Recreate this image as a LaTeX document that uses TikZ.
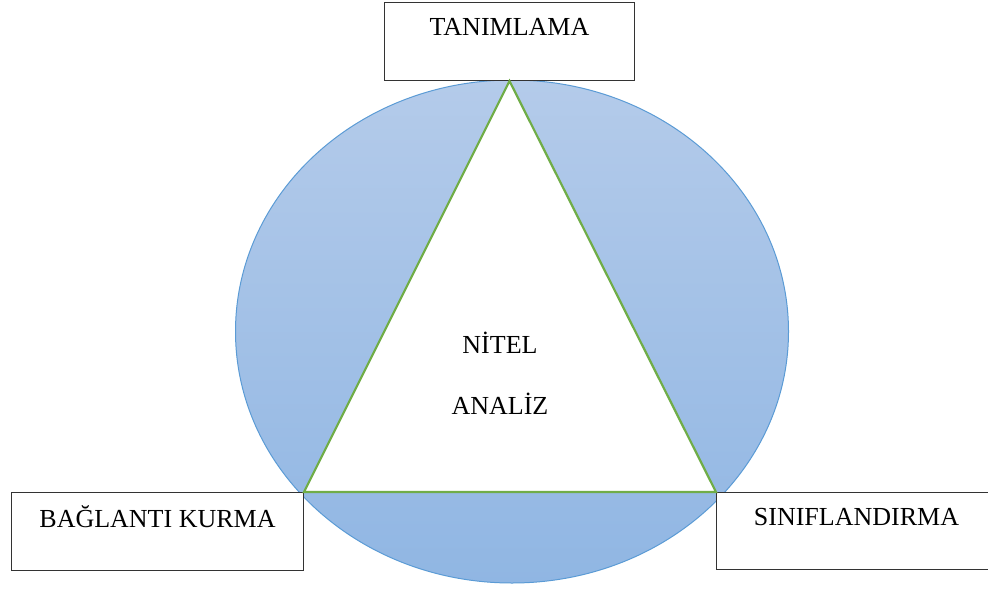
\documentclass[tikz,border=0pt]{standalone}
\usepackage{fontspec}
\setmainfont{Liberation Serif}
\usepackage{tikz}
\usetikzlibrary{positioning}
\definecolor{ovaltop}{RGB}{180,203,234}
\definecolor{ovalbot}{RGB}{144,182,227}
\definecolor{ovalline}{RGB}{91,155,213}
\definecolor{trigreen}{RGB}{112,173,71}

\begin{document}
\begin{tikzpicture}[x=1pt,y=-1pt,
  box/.style={rectangle,draw=black!80,fill=white,line width=1pt,inner sep=0pt,
    font=\fontsize{26}{30}\selectfont},
  word/.style={font=\fontsize{26}{30}\selectfont,anchor=base,inner sep=0pt}]
\useasboundingbox (0,0) rectangle (988,589);
\draw[top color=ovaltop,bottom color=ovalbot,draw=ovalline,line width=1pt] (512,331.5) ellipse [x radius=276.5pt, y radius=251.5pt];

\node[box,anchor=north west,minimum width=250pt,text height=33pt,text depth=45pt] (tan) at (384,2) {TANIMLAMA};
\node[box,anchor=north west,minimum width=292pt,text height=35pt,text depth=43pt] (bag) at (11,492) {BAĞLANTI KURMA};
\node[box,anchor=north west,minimum width=280pt,text height=33pt,text depth=44pt] (sin) at (716,492) {SINIFLANDIRMA};

\draw[fill=white,draw=trigreen,line width=2.2pt,line join=miter] (tan.south) -- (bag.north east) -- (sin.north west) -- cycle;

\node[word] (nitel) at (500,353) {NİTEL};
\node[word] (analiz) at (500,414) {ANALİZ};
\end{tikzpicture}
\end{document}
